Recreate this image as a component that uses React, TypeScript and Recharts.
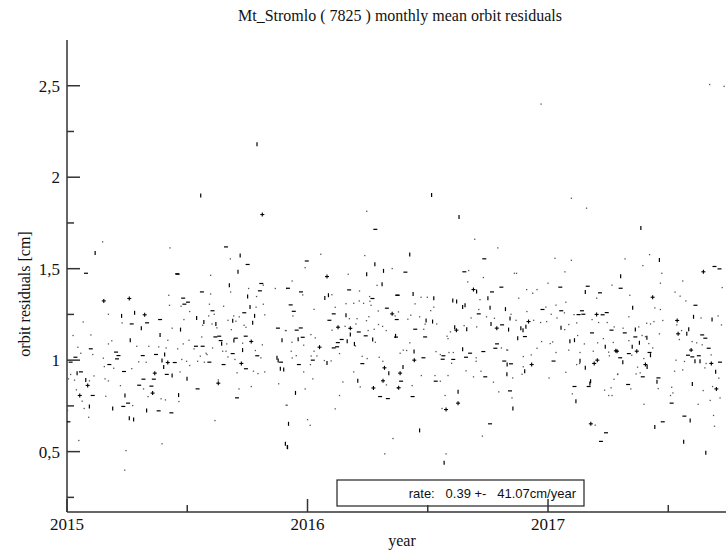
import { ScatterChart, Scatter, XAxis, YAxis } from 'recharts';

// [decimal year, residual cm], grouped by marker shape
const dashPts: [number, number][] = [
  [2015.079, 1.475], [2015.458, 1.472], [2015.387, 1.222], [2015.269, 1.198], [2015.333, 1.204],
  [2015.099, 1.062], [2015.204, 1.044], [2015.214, 1.025], [2015.315, 1.025], [2015.37, 1.031],
  [2015.035, 1.016], [2015.208, 1.007], [2015.015, 0.989], [2015.176, 0.976], [2015.448, 0.987],
  [2015.237, 0.938], [2015.058, 0.936], [2015.415, 0.922], [2015.318, 0.896], [2015.361, 0.896],
  [2015.3, 0.863], [2015.351, 0.858], [2015.107, 0.807], [2015.254, 0.765], [2015.234, 0.747],
  [2015.381, 0.723], [2015.434, 0.712], [2015.006, 0.663],
  [2015.661, 1.619], [2015.751, 1.523], [2015.46, 1.47], [2015.808, 1.419], [2015.561, 1.373],
  [2015.802, 1.379], [2015.483, 1.339], [2015.503, 1.317], [2015.488, 1.306], [2015.605, 1.27],
  [2015.737, 1.259], [2015.877, 1.175], [2015.633, 1.131], [2015.617, 1.127], [2015.702, 1.12],
  [2015.743, 1.131], [2015.639, 1.107], [2015.536, 1.076], [2015.564, 1.076], [2015.689, 1.036],
  [2015.791, 1.024], [2015.592, 0.989], [2015.89, 0.989], [2015.651, 0.976], [2015.744, 0.953],
  [2015.543, 0.843], [2015.707, 0.794],
  [2015.997, 1.542], [2015.919, 1.393], [2015.973, 1.373], [2016.173, 1.384], [2016.27, 1.337],
  [2016.373, 1.355], [2015.93, 1.302], [2015.943, 1.267], [2016.33, 1.284], [2016.371, 1.222],
  [2016.109, 1.253], [2016.091, 1.218], [2015.955, 1.164], [2015.972, 1.176], [2016.213, 1.154],
  [2016.242, 1.133], [2015.98, 1.125], [2016.142, 1.113], [2016.126, 1.096], [2016.109, 1.067],
  [2016.123, 1.073], [2016.022, 1.0], [2015.964, 0.976], [2016.228, 0.981], [2016.302, 0.801],
  [2016.334, 0.79], [2016.282, 1.715],
  [2016.735, 1.554], [2016.407, 1.481], [2016.652, 1.483], [2016.806, 1.399], [2016.767, 1.373],
  [2016.375, 1.355], [2016.712, 1.253], [2016.809, 1.193], [2016.448, 1.169], [2016.368, 1.126],
  [2016.489, 1.127], [2016.788, 1.089], [2016.781, 1.065], [2016.565, 1.024], [2016.676, 1.038],
  [2016.659, 1.016], [2016.731, 1.047], [2016.562, 1.005], [2016.606, 1.004], [2016.482, 1.013],
  [2016.818, 0.995], [2016.389, 0.885], [2016.533, 0.885], [2016.739, 0.909], [2016.437, 0.801],
  [2016.759, 0.652],
  [2017.051, 1.399], [2017.165, 1.404], [2017.216, 1.368], [2016.977, 1.277], [2017.055, 1.27],
  [2017.141, 1.27], [2017.147, 1.251], [2017.127, 1.249], [2017.227, 1.248], [2017.244, 1.26],
  [2017.264, 1.164], [2017.183, 1.149], [2016.904, 1.129], [2017.023, 0.995], [2016.846, 0.98],
  [2017.11, 0.856], [2017.169, 0.856], [2016.842, 0.832], [2017.241, 0.603], [2017.22, 0.556],
  [2017.692, 1.512], [2017.713, 1.499], [2017.302, 1.393], [2017.613, 1.3], [2017.319, 1.149],
  [2017.641, 1.138], [2017.654, 1.12], [2017.363, 1.127], [2017.336, 1.036], [2017.422, 1.042],
  [2017.668, 1.065], [2017.582, 1.027], [2017.6, 1.018], [2017.627, 1.024], [2017.3, 1.013],
  [2017.715, 0.989], [2017.394, 0.909], [2017.333, 0.867], [2017.459, 0.903], [2017.514, 0.765],
  [2017.567, 0.694], [2017.477, 0.663],
];

const barPts: [number, number][] = [
  [2015.117, 1.586], [2015.227, 1.242], [2015.281, 1.259], [2015.309, 1.175], [2015.387, 1.138],
  [2015.263, 1.109], [2015.406, 1.031], [2015.395, 0.998], [2015.402, 0.963], [2015.042, 0.929],
  [2015.437, 0.916], [2015.078, 0.891], [2015.241, 0.807], [2015.093, 0.747], [2015.19, 0.736],
  [2015.331, 0.725], [2015.259, 0.683], [2015.277, 0.676],
  [2015.79, 2.18], [2015.556, 1.9], [2015.72, 1.572], [2015.711, 1.483], [2015.675, 1.41],
  [2015.751, 1.348], [2015.761, 1.291], [2015.78, 1.242], [2015.539, 1.231], [2015.569, 1.209],
  [2015.619, 1.198], [2015.689, 1.215], [2015.772, 1.204], [2015.472, 1.167], [2015.694, 1.107],
  [2015.894, 1.109], [2015.643, 1.089], [2015.73, 1.055], [2015.873, 1.013], [2015.878, 0.998],
  [2015.887, 0.953], [2015.901, 0.949], [2015.499, 0.898], [2015.464, 0.809], [2015.908, 0.543],
  [2015.916, 0.525],
  [2016.28, 1.524], [2016.316, 1.488], [2016.246, 1.47], [2016.31, 1.415], [2016.072, 1.34],
  [2016.087, 1.355], [2016.16, 1.245], [2016.178, 1.14], [2016.271, 1.113], [2016.366, 1.133],
  [2015.961, 1.114], [2016.165, 1.103], [2016.195, 1.089], [2016.081, 0.985], [2016.338, 0.929],
  [2016.209, 0.887], [2015.95, 0.821], [2015.921, 0.652], [2015.917, 0.524],
  [2016.516, 1.903], [2016.63, 1.783], [2016.425, 1.577], [2016.703, 1.375], [2016.439, 1.361],
  [2016.525, 1.339], [2016.604, 1.326], [2016.62, 1.321], [2016.655, 1.3], [2016.645, 1.291],
  [2016.75, 1.339], [2016.759, 1.286], [2016.823, 1.279], [2016.493, 1.217], [2016.52, 1.211],
  [2016.763, 1.198], [2016.612, 1.18], [2016.662, 1.169], [2016.443, 1.047], [2016.645, 1.06],
  [2016.83, 0.976], [2016.397, 0.963], [2016.626, 0.827], [2016.466, 0.616], [2016.568, 0.439],
  [2017.155, 1.373], [2016.842, 1.228], [2016.887, 1.175], [2016.896, 1.164], [2016.908, 1.182],
  [2016.836, 1.167], [2017.054, 1.177], [2016.874, 1.12], [2017.091, 1.104], [2017.11, 1.109],
  [2017.238, 1.073], [2017.133, 0.997], [2017.155, 0.958], [2016.903, 0.94], [2016.829, 0.923],
  [2017.177, 0.885], [2017.174, 0.872], [2017.116, 0.776], [2016.854, 0.736],
  [2017.386, 1.723], [2017.463, 1.548], [2017.302, 1.459], [2017.352, 1.286], [2017.605, 1.237],
  [2017.682, 1.222], [2017.363, 1.167], [2017.411, 1.122], [2017.585, 1.169], [2017.577, 1.144],
  [2017.38, 1.095], [2017.35, 1.073], [2017.426, 1.027], [2017.311, 0.989], [2017.611, 0.994],
  [2017.632, 0.994], [2017.412, 0.963], [2017.697, 0.936], [2017.453, 0.882], [2017.6, 0.869],
  [2017.591, 0.67], [2017.444, 0.634], [2017.564, 0.554], [2017.656, 0.494],
];

const plusPts: [number, number][] = [
  [2015.153, 1.324], [2015.259, 1.337], [2015.323, 1.248], [2015.419, 0.987], [2015.365, 0.929],
  [2015.086, 0.862], [2015.053, 0.807], [2015.356, 0.82],
  [2015.812, 1.796], [2015.766, 1.102], [2015.725, 0.982], [2015.629, 0.874],
  [2016.081, 1.457], [2016.352, 1.253], [2016.127, 1.18], [2016.178, 1.174], [2016.05, 1.071],
  [2016.32, 0.958], [2016.314, 0.887], [2016.274, 0.848],
  [2016.69, 1.386], [2016.787, 1.175], [2016.619, 1.164], [2016.444, 1.0], [2016.385, 0.929],
  [2016.379, 0.849], [2016.626, 0.765], [2016.576, 0.73],
  [2017.202, 1.25], [2016.919, 1.211], [2017.282, 1.051], [2017.205, 1.0], [2016.932, 0.976],
  [2017.192, 0.982], [2017.178, 0.652],
  [2017.646, 1.483], [2017.435, 1.344], [2017.537, 1.217], [2017.541, 1.144], [2017.287, 1.049],
  [2017.369, 1.049], [2017.595, 1.055], [2017.679, 0.982], [2017.405, 0.976], [2017.7, 0.843],
];

const dotPts: [number, number][] = [
  [2015.148, 1.647], [2015.428, 1.614], [2015.423, 1.355], [2015.426, 1.3], [2015.172, 1.251],
  [2015.067, 1.209], [2015.229, 1.204], [2015.437, 1.175], [2015.025, 1.135], [2015.099, 1.138],
  [2015.186, 1.106], [2015.419, 1.109], [2015.172, 1.089], [2015.045, 1.071], [2015.29, 1.076],
  [2015.34, 1.076], [2015.381, 1.073], [2015.412, 1.067], [2015.057, 1.038], [2015.107, 1.031],
  [2015.151, 1.011], [2015.298, 0.991], [2015.329, 0.989], [2015.155, 0.965], [2015.194, 0.956],
  [2015.269, 0.954], [2015.015, 0.922], [2015.112, 0.914], [2015.093, 0.887], [2015.158, 0.898],
  [2015.172, 0.887], [2015.006, 0.898], [2015.031, 0.891], [2015.222, 0.861], [2015.039, 0.838],
  [2015.318, 0.843], [2015.161, 0.803], [2015.337, 0.801], [2015.063, 0.776], [2015.391, 0.789],
  [2015.409, 0.783], [2015.273, 0.752], [2015.071, 0.736], [2015.002, 0.725], [2015.09, 0.688],
  [2015.049, 0.561], [2015.395, 0.543], [2015.245, 0.506], [2015.24, 0.399],
  [2015.679, 1.554], [2015.597, 1.464], [2015.816, 1.41], [2015.597, 1.362], [2015.755, 1.392],
  [2015.866, 1.392], [2015.913, 1.392], [2015.68, 1.373], [2015.788, 1.348], [2015.474, 1.295],
  [2015.592, 1.306], [2015.651, 1.295], [2015.816, 1.306], [2015.786, 1.29], [2015.51, 1.266],
  [2015.822, 1.248], [2015.612, 1.251], [2015.589, 1.242], [2015.693, 1.242], [2015.716, 1.237],
  [2015.486, 1.222], [2015.603, 1.198], [2015.564, 1.191], [2015.669, 1.218], [2015.702, 1.213],
  [2015.736, 1.191], [2015.623, 1.177], [2015.908, 1.162], [2015.683, 1.167], [2015.744, 1.18],
  [2015.56, 1.127], [2015.507, 1.109], [2015.483, 1.089], [2015.664, 1.089], [2015.73, 1.093],
  [2015.812, 1.084], [2015.605, 1.067], [2015.528, 1.062], [2015.46, 1.062], [2015.647, 1.049],
  [2015.661, 1.049], [2015.783, 1.053], [2015.578, 1.038], [2015.806, 1.013], [2015.554, 1.022],
  [2015.582, 1.031], [2015.669, 1.018], [2015.477, 1.004], [2015.497, 0.994], [2015.543, 0.994],
  [2015.571, 0.989], [2015.698, 1.004], [2015.51, 0.971], [2015.775, 0.94], [2015.794, 0.927],
  [2015.822, 0.936], [2015.707, 0.931], [2015.47, 0.936], [2015.629, 0.892], [2015.766, 0.856],
  [2015.715, 0.843], [2015.465, 0.774], [2015.88, 0.871], [2015.915, 0.754], [2015.615, 0.67],
  [2016.246, 1.814], [2016.055, 1.579], [2015.99, 1.506], [2016.238, 1.572], [2016.352, 1.501],
  [2016.169, 1.47], [2015.936, 1.433], [2015.98, 1.357], [2016.216, 1.378], [2016.289, 1.409],
  [2016.101, 1.358], [2016.258, 1.348], [2015.939, 1.242], [2016.115, 1.289], [2016.16, 1.309],
  [2016.192, 1.311], [2016.215, 1.324], [2016.233, 1.311], [2016.259, 1.322], [2016.264, 1.3],
  [2016.294, 1.269], [2016.364, 1.242], [2016.174, 1.227], [2016.206, 1.227], [2016.255, 1.238],
  [2016.027, 1.278], [2015.911, 1.162], [2016.102, 1.164], [2016.156, 1.185], [2016.201, 1.198],
  [2016.245, 1.216], [2016.252, 1.162], [2016.277, 1.169], [2016.295, 1.195], [2016.312, 1.185],
  [2016.327, 1.162], [2016.282, 1.098], [2016.014, 1.14], [2016.032, 1.122], [2016.199, 1.078],
  [2015.935, 1.098], [2015.984, 1.082], [2016.133, 1.036], [2016.027, 1.049], [2015.932, 1.049],
  [2015.953, 1.025], [2015.936, 1.012], [2016.015, 1.023], [2016.039, 1.023], [2016.012, 0.976],
  [2016.07, 0.998], [2016.098, 0.996], [2016.227, 1.021], [2016.248, 1.009], [2016.298, 1.016],
  [2016.313, 0.994], [2016.192, 0.936], [2015.984, 0.936], [2016.022, 0.898], [2016.147, 0.881],
  [2016.219, 0.854], [2016.328, 0.865], [2016.374, 0.848], [2015.99, 0.843], [2016.133, 0.807],
  [2016.115, 0.734], [2015.911, 0.754], [2016.0, 0.675], [2016.011, 0.644], [2016.355, 0.572],
  [2016.321, 0.488],
  [2016.695, 1.661], [2016.791, 1.614], [2016.67, 1.49], [2016.731, 1.452], [2016.666, 1.428],
  [2016.472, 1.344], [2016.498, 1.344], [2016.717, 1.331], [2016.712, 1.277], [2016.447, 1.308],
  [2016.525, 1.29], [2016.378, 1.264], [2016.429, 1.246], [2016.466, 1.237], [2016.512, 1.271],
  [2016.537, 1.198], [2016.68, 1.231], [2016.744, 1.237], [2016.777, 1.229], [2016.489, 1.197],
  [2016.417, 1.224], [2016.483, 1.169], [2016.594, 1.155], [2016.651, 1.189], [2016.703, 1.182],
  [2016.58, 1.131], [2016.584, 1.118], [2016.425, 1.095], [2016.806, 1.067], [2016.828, 1.056],
  [2016.398, 1.055], [2016.412, 1.053], [2016.385, 1.038], [2016.534, 1.047], [2016.552, 1.031],
  [2016.588, 1.042], [2016.606, 1.042], [2016.701, 1.013], [2016.701, 0.994], [2016.599, 0.983],
  [2016.659, 0.942], [2016.721, 0.94], [2016.473, 0.916], [2016.53, 0.916], [2016.584, 0.916],
  [2016.552, 0.885], [2016.69, 0.909], [2016.773, 0.88], [2016.435, 0.861], [2016.572, 0.807],
  [2016.795, 0.827], [2016.559, 0.736], [2016.727, 0.585], [2016.576, 0.488],
  [2016.971, 2.4], [2017.097, 1.885], [2017.16, 1.831], [2017.029, 1.557], [2017.097, 1.546],
  [2017.07, 1.483], [2016.86, 1.475], [2016.869, 1.475], [2017.0, 1.421], [2017.266, 1.41],
  [2016.911, 1.386], [2016.954, 1.386], [2016.936, 1.366], [2016.878, 1.339], [2017.202, 1.339],
  [2016.991, 1.29], [2017.033, 1.301], [2017.108, 1.249], [2017.074, 1.317], [2017.013, 1.251],
  [2017.068, 1.259], [2016.912, 1.266], [2016.846, 1.251], [2016.867, 1.218], [2016.94, 1.218],
  [2016.969, 1.206], [2016.994, 1.211], [2017.037, 1.231], [2017.086, 1.195], [2017.119, 1.204],
  [2017.183, 1.222], [2017.21, 1.206], [2017.246, 1.206], [2017.275, 1.182], [2017.069, 1.167],
  [2017.123, 1.135], [2016.973, 1.102], [2017.019, 1.1], [2017.009, 1.091], [2017.151, 1.089],
  [2017.206, 1.095], [2017.23, 1.118], [2017.271, 1.097], [2017.252, 1.044], [2016.832, 1.055],
  [2016.954, 1.065], [2017.033, 1.042], [2017.086, 1.055], [2017.133, 1.042], [2017.188, 1.049],
  [2016.897, 1.02], [2016.93, 1.029], [2016.897, 0.964], [2017.119, 0.976], [2017.131, 0.982],
  [2016.892, 0.923], [2017.255, 1.024], [2016.853, 0.903], [2017.004, 0.903], [2017.074, 0.934],
  [2017.289, 0.922], [2017.274, 0.896], [2017.235, 0.836], [2017.262, 0.849], [2017.101, 0.816],
  [2017.252, 0.807], [2017.266, 0.807], [2016.85, 0.794], [2017.196, 0.645],
  [2017.672, 2.507], [2017.732, 2.497],
  [2017.422, 1.577], [2017.32, 1.554], [2017.394, 1.517], [2017.473, 1.475], [2017.56, 1.433],
  [2017.467, 1.421], [2017.724, 1.397], [2017.34, 1.355], [2017.528, 1.372], [2017.549, 1.35],
  [2017.573, 1.324], [2017.444, 1.286], [2017.467, 1.277], [2017.336, 1.237], [2017.636, 1.231],
  [2017.707, 1.242], [2017.41, 1.202], [2017.426, 1.198], [2017.44, 1.211], [2017.477, 1.217],
  [2017.535, 1.193], [2017.721, 1.193], [2017.312, 1.175], [2017.377, 1.182], [2017.391, 1.135],
  [2017.405, 1.129], [2017.463, 1.144], [2017.555, 1.162], [2017.546, 1.113], [2017.599, 1.102],
  [2017.618, 1.095], [2017.641, 1.084], [2017.336, 1.107], [2017.419, 1.091], [2017.435, 1.067],
  [2017.678, 1.029], [2017.348, 1.027], [2017.398, 1.009], [2017.532, 1.0], [2017.567, 0.993],
  [2017.657, 0.982], [2017.372, 0.962], [2017.29, 0.925], [2017.366, 0.925], [2017.383, 0.931],
  [2017.526, 0.94], [2017.56, 0.947], [2017.652, 0.958], [2017.71, 0.902], [2017.344, 0.843],
  [2017.458, 0.845], [2017.514, 0.852], [2017.509, 0.807], [2017.519, 0.821], [2017.645, 0.834],
  [2017.684, 0.856], [2017.715, 0.794], [2017.674, 0.78], [2017.624, 0.759], [2017.399, 0.759],
  [2017.688, 0.698], [2017.692, 0.639],
];

const xTicks = [2015, 2015.5, 2016, 2016.5, 2017, 2017.5];
const yTicks = [0.25, 0.5, 0.75, 1, 1.25, 1.5, 1.75, 2, 2.25, 2.5];
const rateText = 'rate:   0.39 +-   41.07cm/year';

const toRows = (pts: [number, number][]) => pts.map(([t, v]) => ({ t, v }));

const SERIF = '"Liberation Serif", "DejaVu Serif", serif';
const AXIS = '#333';

function YTick(props: any) {
  const { x, y, payload } = props;
  const axisX = x + 7;
  const major = Math.abs(payload.value * 2 - Math.round(payload.value * 2)) < 1e-6;
  const label = String(payload.value).replace('.', ',');
  return (
    <g>
      <line x1={axisX} x2={axisX + (major ? 13 : 7)} y1={y} y2={y} stroke={AXIS} strokeWidth={1.5} />
      {major && (
        <text x={x} y={y + 6} textAnchor="end" fontFamily={SERIF} fontSize={17} fill="#111">
          {label}
        </text>
      )}
    </g>
  );
}

function XTick(props: any) {
  const { x, y, payload } = props;
  const axisY = y - 4;
  const major = Number.isInteger(payload.value);
  return (
    <g>
      <line x1={x} x2={x} y1={axisY} y2={axisY - (major ? 13 : 7)} stroke={AXIS} strokeWidth={1.5} />
      {major && (
        <text x={x} y={axisY + 18} textAnchor="middle" fontFamily={SERIF} fontSize={17} fill="#111">
          {payload.value}
        </text>
      )}
    </g>
  );
}

function TopTick(props: any) {
  const { x, y, payload } = props;
  const major = Number.isInteger(payload.value);
  return <line x1={x} x2={x} y1={y} y2={y + (major ? 13 : 7)} stroke={AXIS} strokeWidth={1.5} />;
}

const Dash = (p: any) => <line x1={p.cx - 2} x2={p.cx + 2} y1={p.cy} y2={p.cy} stroke="#000" strokeWidth={1.2} />;
const Bar = (p: any) => <line x1={p.cx} x2={p.cx} y1={p.cy - 2} y2={p.cy + 2} stroke="#000" strokeWidth={1.2} />;
const Plus = (p: any) => (
  <g stroke="#000" strokeWidth={1.1}>
    <line x1={p.cx - 2} x2={p.cx + 2} y1={p.cy} y2={p.cy} />
    <line x1={p.cx} x2={p.cx} y1={p.cy - 2} y2={p.cy + 2} />
  </g>
);
const Dot = (p: any) => <rect x={p.cx - 0.6} y={p.cy - 0.6} width={1.3} height={1.3} fill="#555" />;

export default function App() {
  return (
    <div style={{ position: 'absolute', left: 0, top: 0, width: 726, height: 552, background: '#fff', overflow: 'hidden' }}>
      <ScatterChart width={726} height={552} margin={{ top: 40, right: 0, bottom: 0, left: 0 }}>
        <XAxis
          xAxisId="b"
          type="number"
          dataKey="t"
          domain={[2015, 2017.74]}
          ticks={xTicks}
          interval={0}
          allowDataOverflow
          height={40}
          tickSize={0}
          tickMargin={4}
          tickLine={false}
          tick={<XTick />}
          axisLine={{ stroke: AXIS, strokeWidth: 1.5 }}
        />
        <XAxis
          xAxisId="top"
          orientation="top"
          type="number"
          dataKey="t"
          domain={[2015, 2017.74]}
          ticks={xTicks}
          interval={0}
          allowDataOverflow
          height={0}
          tickSize={0}
          tickMargin={0}
          tickLine={false}
          tick={<TopTick />}
          axisLine={{ stroke: AXIS, strokeWidth: 1.5 }}
        />
        <YAxis
          yAxisId="l"
          type="number"
          dataKey="v"
          domain={[0.17, 2.75]}
          ticks={yTicks}
          interval={0}
          allowDataOverflow
          width={67}
          tickSize={0}
          tickMargin={7}
          tickLine={false}
          tick={<YTick />}
          axisLine={{ stroke: AXIS, strokeWidth: 1.5 }}
        />
        <Scatter xAxisId="b" yAxisId="l" data={toRows(dotPts)} shape={Dot} isAnimationActive={false} />
        <Scatter xAxisId="b" yAxisId="l" data={toRows(dashPts)} shape={Dash} isAnimationActive={false} />
        <Scatter xAxisId="b" yAxisId="l" data={toRows(barPts)} shape={Bar} isAnimationActive={false} />
        <Scatter xAxisId="b" yAxisId="l" data={toRows(plusPts)} shape={Plus} isAnimationActive={false} />
        <text x={400} y={21} textAnchor="middle" fontFamily={SERIF} fontSize={16} fill="#111">
          Mt_Stromlo ( 7825 ) monthly mean orbit residuals
        </text>
        <text transform="translate(30,294) rotate(-90)" textAnchor="middle" fontFamily={SERIF} fontSize={16} fill="#111">
          orbit residuals [cm]
        </text>
        <text x={402} y={546} textAnchor="middle" fontFamily={SERIF} fontSize={16} fill="#111">
          year
        </text>
        <rect x={337} y={480} width={247} height={26} fill="#fff" stroke="#222" strokeWidth={1.2} />
        <text x={576} y={498} textAnchor="end" fontFamily='"Liberation Sans", Arial, sans-serif' fontSize={13} fill="#111" style={{ whiteSpace: 'pre' }}>
          {rateText}
        </text>
      </ScatterChart>
    </div>
  );
}
